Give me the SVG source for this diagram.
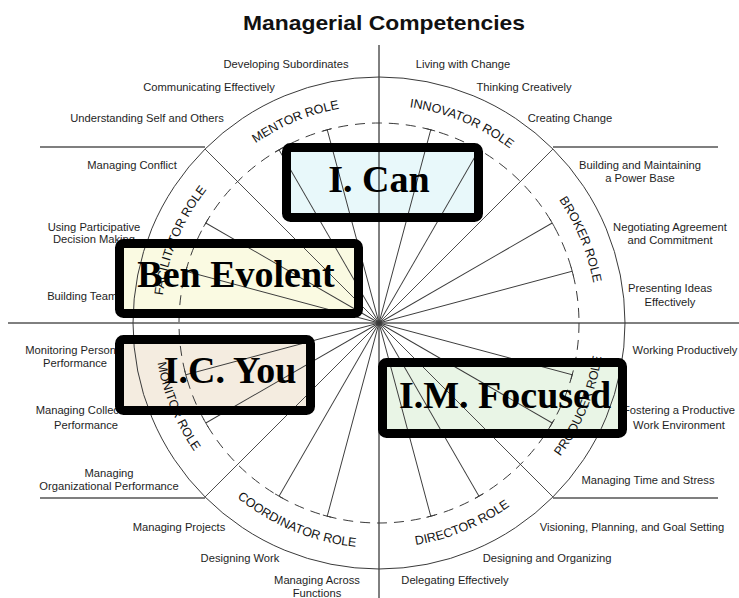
<svg xmlns="http://www.w3.org/2000/svg" xmlns:xlink="http://www.w3.org/1999/xlink" width="739" height="598" viewBox="0 0 739 598">
  <style>
    .lbl { font-family: "Liberation Sans", Arial, sans-serif; font-size: 11.2px; fill: #1e1e1e; text-anchor: middle; }
    .role { font-family: "Liberation Sans", Arial, sans-serif; font-size: 12.5px; fill: #111; text-anchor: middle; }
    .title { font-family: "Liberation Sans", Arial, sans-serif; font-size: 21px; font-weight: bold; fill: #111; text-anchor: middle; }
    .name { font-family: "Liberation Serif", "Times New Roman", serif; font-size: 38px; font-weight: bold; fill: #000; text-anchor: middle; }
    .frame { fill: none; stroke: #000; stroke-width: 9; }
    .axis { stroke: #000; stroke-width: 1; fill: none; }
    .rim { stroke: #3a3a3a; stroke-width: 1; fill: none; }
    .inner { stroke: #3a3a3a; stroke-width: 1; fill: none; stroke-dasharray: 10 7; }
    .sep { stroke: #555; stroke-width: 1.3; }
    .spk { stroke: #3a3a3a; stroke-width: 0.9; fill: none; }
  </style>
  <defs>
    <!-- competency spoke: centre to the dashed ring, closed by a short tick -->
    <g id="spoke" class="spk">
      <line x1="0" y1="0" x2="200" y2="0"/>
      <line x1="200" y1="-4.5" x2="200" y2="4.5"/>
    </g>
    <!-- arcs carrying the role names -->
    <path id="arcTop" d="M 161 323 A 218 218 0 0 1 597 323"/>
    <path id="arcBot" d="M 154 323 A 225 225 0 0 0 604 323"/>
  </defs>

  <rect width="739" height="598" fill="#fff"/>

  <text class="title" x="384" y="30" textLength="282" lengthAdjust="spacingAndGlyphs">Managerial Competencies</text>

  <!-- competency labels around the wheel -->
  <g id="labels">
    <text class="lbl" x="286" y="68">Developing Subordinates</text>
    <text class="lbl" x="463" y="68">Living with Change</text>
    <text class="lbl" x="209" y="91">Communicating Effectively</text>
    <text class="lbl" x="524" y="91">Thinking Creatively</text>
    <text class="lbl" x="147" y="122">Understanding Self and Others</text>
    <text class="lbl" x="570" y="122">Creating Change</text>
    <text class="lbl" x="132" y="169">Managing Conflict</text>
    <text class="lbl" x="640" y="169">Building and Maintaining</text>
    <text class="lbl" x="640" y="182">a Power Base</text>
    <text class="lbl" x="94" y="231">Using Participative</text>
    <text class="lbl" x="94" y="243">Decision Making</text>
    <text class="lbl" x="670" y="231">Negotiating Agreement</text>
    <text class="lbl" x="670" y="244">and Commitment</text>
    <text class="lbl" x="85" y="300">Building Teams</text>
    <text class="lbl" x="670" y="292">Presenting Ideas</text>
    <text class="lbl" x="670" y="306">Effectively</text>
    <text class="lbl" x="75" y="354">Monitoring Personal</text>
    <text class="lbl" x="75" y="367">Performance</text>
    <text class="lbl" x="685" y="354">Working Productively</text>
    <text class="lbl" x="86" y="414">Managing Collective</text>
    <text class="lbl" x="86" y="429">Performance</text>
    <text class="lbl" x="679" y="414">Fostering a Productive</text>
    <text class="lbl" x="679" y="429">Work Environment</text>
    <text class="lbl" x="109" y="477">Managing</text>
    <text class="lbl" x="109" y="490">Organizational Performance</text>
    <text class="lbl" x="648" y="484">Managing Time and Stress</text>
    <text class="lbl" x="179" y="531">Managing Projects</text>
    <text class="lbl" x="632" y="531">Visioning, Planning, and Goal Setting</text>
    <text class="lbl" x="240" y="562">Designing Work</text>
    <text class="lbl" x="547" y="562">Designing and Organizing</text>
    <text class="lbl" x="317" y="584">Managing Across</text>
    <text class="lbl" x="317" y="597">Functions</text>
    <text class="lbl" x="455" y="584">Delegating Effectively</text>
  </g>

  <!-- box backgrounds sit under the wheel lines -->
  <g id="box-fills">
    <rect x="286.5" y="147.5" width="192" height="70" fill="#e8f8fa"/>
    <rect x="119.5" y="243.5" width="239" height="70" fill="#fafae2"/>
    <rect x="119.5" y="339.5" width="191" height="71" fill="#f4ece0"/>
    <rect x="382.5" y="362.5" width="240" height="71" fill="#e9f5e6"/>
  </g>

  <!-- the competing-values wheel -->
  <g id="wheel">
    <line class="axis" x1="379" y1="45" x2="379" y2="598"/>
    <line class="axis" x1="8" y1="323" x2="739" y2="323"/>
    <circle class="rim" cx="379" cy="323" r="246"/>
    <circle class="inner" cx="379" cy="323" r="200"/>
    <!-- role boundaries -->
    <g class="spk">
      <line x1="379" y1="323" x2="552.9" y2="149.1"/>
      <line x1="379" y1="323" x2="205.1" y2="149.1"/>
      <line x1="379" y1="323" x2="205.1" y2="496.9"/>
      <line x1="379" y1="323" x2="552.9" y2="496.9"/>
    </g>
    <line class="sep" x1="40" y1="147" x2="205" y2="147"/>
    <line class="sep" x1="553" y1="147" x2="718" y2="147"/>
    <line class="sep" x1="40" y1="498" x2="205" y2="498"/>
    <line class="sep" x1="553" y1="498" x2="718" y2="498"/>
    <!-- competency spokes every 15 degrees -->
    <g transform="translate(379 323)">
      <use xlink:href="#spoke" transform="rotate(-15)"/>
      <use xlink:href="#spoke" transform="rotate(-30)"/>
      <use xlink:href="#spoke" transform="rotate(-60)"/>
      <use xlink:href="#spoke" transform="rotate(-75)"/>
      <use xlink:href="#spoke" transform="rotate(-105)"/>
      <use xlink:href="#spoke" transform="rotate(-120)"/>
      <use xlink:href="#spoke" transform="rotate(-150)"/>
      <use xlink:href="#spoke" transform="rotate(-165)"/>
      <use xlink:href="#spoke" transform="rotate(15)"/>
      <use xlink:href="#spoke" transform="rotate(30)"/>
      <use xlink:href="#spoke" transform="rotate(60)"/>
      <use xlink:href="#spoke" transform="rotate(75)"/>
      <use xlink:href="#spoke" transform="rotate(105)"/>
      <use xlink:href="#spoke" transform="rotate(120)"/>
      <use xlink:href="#spoke" transform="rotate(150)"/>
      <use xlink:href="#spoke" transform="rotate(165)"/>
    </g>
    <!-- role names -->
    <text class="role"><textPath xlink:href="#arcTop" startOffset="12.5%">FACILITATOR ROLE</textPath></text>
    <text class="role"><textPath xlink:href="#arcTop" startOffset="37.5%">MENTOR ROLE</textPath></text>
    <text class="role"><textPath xlink:href="#arcTop" startOffset="62.5%">INNOVATOR ROLE</textPath></text>
    <text class="role"><textPath xlink:href="#arcTop" startOffset="87.5%">BROKER ROLE</textPath></text>
    <text class="role"><textPath xlink:href="#arcBot" startOffset="12.5%">MONITOR ROLE</textPath></text>
    <text class="role"><textPath xlink:href="#arcBot" startOffset="37.5%">COORDINATOR ROLE</textPath></text>
    <text class="role"><textPath xlink:href="#arcBot" startOffset="62.5%">DIRECTOR ROLE</textPath></text>
    <text class="role"><textPath xlink:href="#arcBot" startOffset="87.5%">PRODUCER ROLE</textPath></text>
  </g>

  <!-- name boxes -->
  <g id="box-can">
    <rect class="frame" x="286.5" y="147.5" width="192" height="70" rx="4"/>
    <text class="name" x="379" y="192">I. Can</text>
  </g>
  <g id="box-ben">
    <rect class="frame" x="119.5" y="243.5" width="239" height="70" rx="4"/>
    <text class="name" x="236" y="287">Ben Evolent</text>
  </g>
  <g id="box-you">
    <rect class="frame" x="119.5" y="339.5" width="191" height="71" rx="4"/>
    <text class="name" x="230" y="383">I.C. You</text>
  </g>
  <g id="box-focused">
    <rect class="frame" x="382.5" y="362.5" width="240" height="71" rx="4"/>
    <text class="name" x="505" y="408">I.M. Focused</text>
  </g>
</svg>
